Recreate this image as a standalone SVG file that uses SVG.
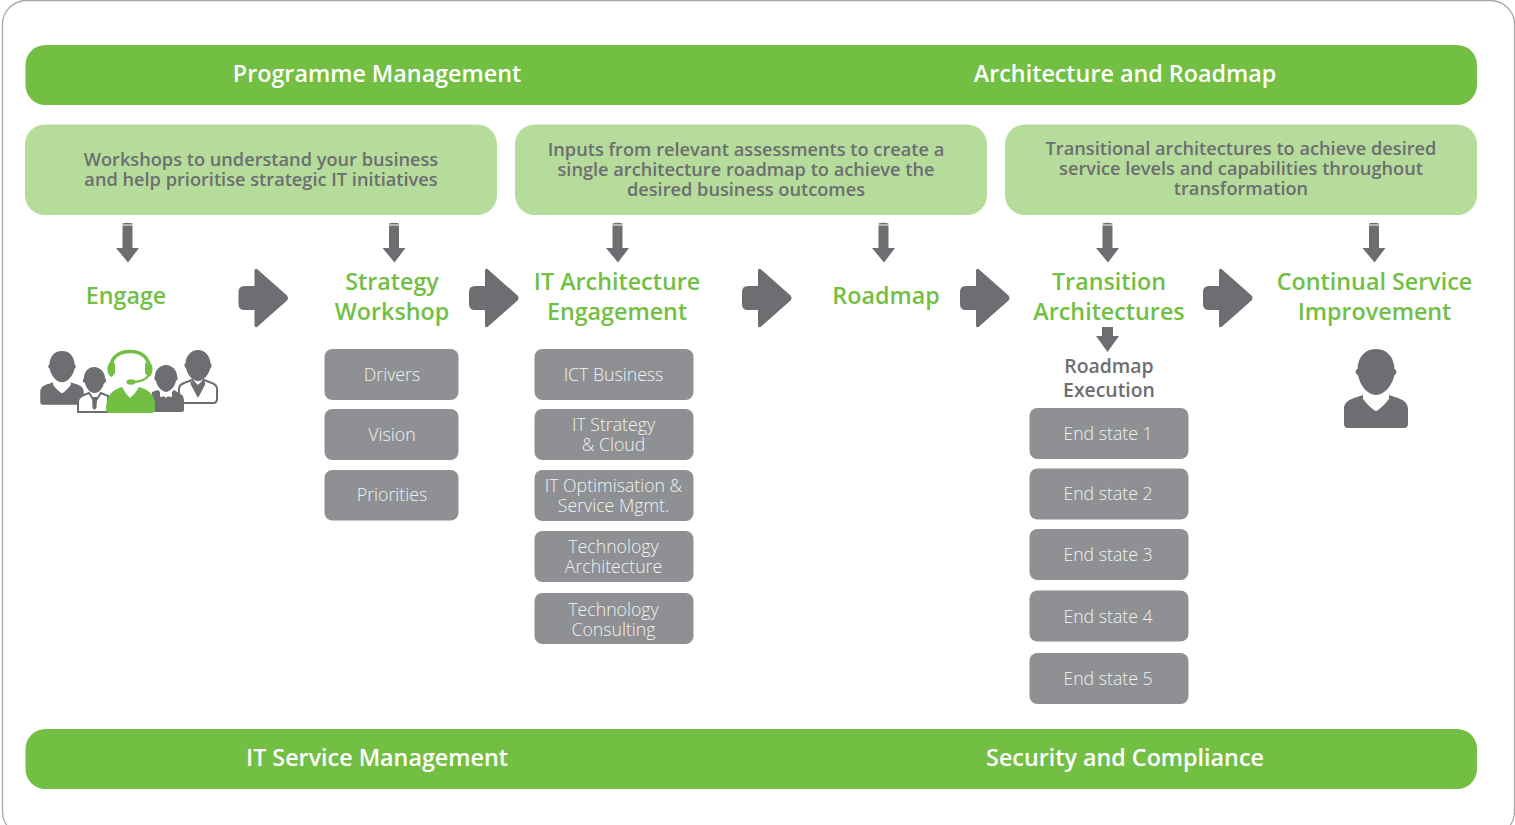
<svg xmlns="http://www.w3.org/2000/svg" xmlns:xlink="http://www.w3.org/1999/xlink" width="1515" height="825" viewBox="0 0 1515 825">
<style>
text{font-family:"Open Sans","Noto Sans","Liberation Sans",sans-serif;text-anchor:middle}
.band{fill:#72bf44}
.bt{fill:#fff;font-size:23.300px;font-weight:600}
.lb{fill:#b5dc9a}
.lt{fill:#6d6e71;font-size:18.200px;font-weight:600}
.re{fill:#6d6e71;font-size:19.400px;font-weight:600}
.h{fill:#72bf44;font-size:23.300px;font-weight:600}
.g{fill:#8e9093}
.gt{fill:#f1f2f2;font-size:17.700px;font-weight:300}
.d{fill:#6d6e71}
.w{fill:#fff}
.ol{fill:#fff;stroke:#6d6e71;stroke-width:2}
</style>
<defs>
<path id="down" d="M-5 -19.500Q0 -21 5 -19.500L5 -18.500L-5 -18.500ZM-5 -17.500L5 -17.500L5 5L11.500 5L0.500 19.500L-11.500 5L-5 5Z" class="d"/>
<path id="big" d="M16 -27Q16 -30 18.500 -29L48.500 -2.500Q50.500 0 48.500 2.500L18.500 29Q16 30 16 27L16 12L6 12Q0 12 0 6L0 -6Q0 -12 6 -12L16 -12Z" class="d"/>
<g id="person">
<path d="M0 0C-12 0 -18 9 -18.500 20C-21 21 -21 25 -18 26C-16 37 -8 46 0 46C8 46 16 37 18.500 26C21 25 21 21 18.500 20C18 9 12 0 0 0Z"/>
<path d="M-13 46C-20 49 -32 50 -32 60L-32 75Q-32 79 -28 79L28 79Q32 79 32 75L32 60C32 50 20 49 13 46L13 50Q5 60 0 62Q-5 60 -13 50Z"/>
</g>
</defs>
<rect x="2.500" y="0.500" width="1512" height="835" rx="24" fill="#fff" stroke="#a7a9ac" stroke-width="1.300"/>

<g id="top-band">
<rect class="band" x="25.500" y="45" width="1451.500" height="60" rx="20"/>
<text class="bt" x="377" y="82">Programme Management</text>
<text class="bt" x="1125" y="82">Architecture and Roadmap</text>
</g>
<g id="bottom-band">
<rect class="band" x="25.500" y="729" width="1451.500" height="60" rx="20"/>
<text class="bt" x="377" y="766">IT Service Management</text>
<text class="bt" x="1125" y="766">Security and Compliance</text>
</g>

<g id="note-1">
<rect class="lb" x="25" y="124.500" width="472" height="90.500" rx="20"/>
<text class="lt"><tspan x="261" y="166">Workshops to understand your business</tspan><tspan x="261" y="186">and help prioritise strategic IT initiatives</tspan></text>
</g>
<g id="note-2">
<rect class="lb" x="515" y="124.500" width="472" height="90.500" rx="20"/>
<text class="lt"><tspan x="746" y="156">Inputs from relevant assessments to create a</tspan><tspan x="746" y="176">single architecture roadmap to achieve the</tspan><tspan x="746" y="196">desired business outcomes</tspan></text>
</g>
<g id="note-3">
<rect class="lb" x="1005" y="124.500" width="472" height="90.500" rx="20"/>
<text class="lt"><tspan x="1241" y="155">Transitional architectures to achieve desired</tspan><tspan x="1241" y="175">service levels and capabilities throughout</tspan><tspan x="1241" y="195">transformation</tspan></text>
</g>

<g id="connectors">
<use xlink:href="#down" href="#down" x="127.500" y="243"/>
<use xlink:href="#down" href="#down" x="394" y="243"/>
<use xlink:href="#down" href="#down" x="617.500" y="243"/>
<use xlink:href="#down" href="#down" x="883.500" y="243"/>
<use xlink:href="#down" href="#down" x="1107.500" y="243"/>
<use xlink:href="#down" href="#down" x="1374" y="243"/>
<path class="d" d="M1102 327L1113 327L1113 336L1119 336L1107.500 352L1096 336L1102 336Z"/>
<use xlink:href="#big" href="#big" x="238.500" y="298"/>
<use xlink:href="#big" href="#big" x="469" y="298"/>
<use xlink:href="#big" href="#big" x="742" y="298"/>
<use xlink:href="#big" href="#big" x="960" y="298"/>
<use xlink:href="#big" href="#big" x="1203" y="298"/>
</g>

<g id="engage">
<text class="h" x="126" y="304" font-size="24">Engage</text>
<g id="engage-people">
<use xlink:href="#person" href="#person" transform="translate(62 351) scale(.68 .68)" class="d"/>
<path class="ol" d="M179 402L179 389Q179 385 184 383L192 380L198 387L204 380L212 383Q217 385 217 389L217 399Q217 403 213 403L180 403Z"/>
<path class="d" d="M198 350C191 350 186 356 185.500 363C184 364 184 367 186 368C187 374 192 381 198 381C204 381 209 374 210.500 368C212 367 212 364 210.500 363C210 356 205 350 198 350Z"/>
<path class="d" d="M190 381L197 385L205 381L205 385L198 398L191 385Z"/>
<path class="d" d="M166 365C160 365 155 370 155 376C154 378 154 380 156 381C157 386 161 391 166 392C171 391 175 386 176 381C178 380 178 378 177 376C177 370 172 365 166 365Z"/>
<path class="d" d="M152 392L158 390L166 398L174 390L182 395Q184 397 184 400L184 410Q184 412 182 412L152 412Z"/>
<path class="w" d="M160 391L166 395L172 391L172 397L166 396L160 397Z"/>
<path class="ol" d="M78 412L78 402Q78 397 84 395L89 393L95 402L101 393L108 396L108 412Z"/>
<path class="d" d="M94 367C88 367 84 372 84 378C82 380 83 383 85 383C86 388 90 393 94.500 393C99 393 103 388 104 383C106 383 107 380 105 378C105 372 100 367 94 367Z"/>
<path class="d" d="M92 397L97 397L96.500 408L94.500 410L92.500 408Z"/>
<path d="M106 409Q106 391 122 387Q125 393 130 398Q136 393 139 387Q155 391 155 405L155 409Q155 413 151 413L110 413Q106 413 106 409Z" fill="#72bf44"/>
<path d="M111 370C110 358 118 351.500 130 351.500C142 351.500 150 358 149 370" fill="none" stroke="#72bf44" stroke-width="3.600"/>
<path d="M112 361C106 363 106 376 112 377L115 373L115 364Z" fill="#72bf44"/>
<path d="M148 361C154 363 154 376 148 377L145 373L145 364Z" fill="#72bf44"/>
<path d="M148 376Q145 381 134 382" fill="none" stroke="#72bf44" stroke-width="2.400"/>
<ellipse cx="131" cy="382" rx="4.500" ry="2.800" fill="#72bf44"/>
</g>
</g>

<g id="strategy-workshop">
<text class="h"><tspan x="392" y="290">Strategy</tspan><tspan x="392" y="320">Workshop</tspan></text>
</g>
<g id="drivers"><rect class="g" x="324.500" y="349" width="134" height="51" rx="8"/><text class="gt" x="392" y="381">Drivers</text></g>
<g id="vision"><rect class="g" x="324.500" y="409" width="134" height="51" rx="8"/><text class="gt" x="392" y="441">Vision</text></g>
<g id="priorities"><rect class="g" x="324.500" y="470" width="134" height="50.500" rx="8"/><text class="gt" x="392" y="501">Priorities</text></g>

<g id="it-architecture-engagement">
<text class="h"><tspan x="617" y="290">IT Architecture</tspan><tspan x="617" y="320">Engagement</tspan></text>
</g>
<g id="ict-business"><rect class="g" x="534.500" y="349" width="159" height="51" rx="8"/><text class="gt" x="613.500" y="381">ICT Business</text></g>
<g id="it-strategy"><rect class="g" x="534.500" y="409" width="159" height="51" rx="8"/><text class="gt"><tspan x="613.500" y="431">IT Strategy</tspan><tspan x="613.500" y="451">&amp; Cloud</tspan></text></g>
<g id="it-optimisation"><rect class="g" x="534.500" y="470" width="159" height="51" rx="8"/><text class="gt"><tspan x="613.500" y="492">IT Optimisation &amp;</tspan><tspan x="613.500" y="512">Service Mgmt.</tspan></text></g>
<g id="technology-architecture"><rect class="g" x="534.500" y="531" width="159" height="51" rx="8"/><text class="gt"><tspan x="613.500" y="553">Technology</tspan><tspan x="613.500" y="573">Architecture</tspan></text></g>
<g id="technology-consulting"><rect class="g" x="534.500" y="593" width="159" height="51" rx="8"/><text class="gt"><tspan x="613.500" y="616">Technology</tspan><tspan x="613.500" y="636">Consulting</tspan></text></g>

<g id="roadmap"><text class="h" x="886" y="304">Roadmap</text></g>

<g id="transition-architectures">
<text class="h"><tspan x="1109" y="290">Transition</tspan><tspan x="1109" y="320">Architectures</tspan></text>
</g>
<g id="roadmap-execution">
<text class="re"><tspan x="1109" y="373">Roadmap</tspan><tspan x="1109" y="397">Execution</tspan></text>
</g>
<g id="end-state-1"><rect class="g" x="1029.500" y="408" width="159" height="51" rx="8"/><text class="gt" x="1108" y="440">End state 1</text></g>
<g id="end-state-2"><rect class="g" x="1029.500" y="468.500" width="159" height="51" rx="8"/><text class="gt" x="1108" y="500">End state 2</text></g>
<g id="end-state-3"><rect class="g" x="1029.500" y="529" width="159" height="51" rx="8"/><text class="gt" x="1108" y="561">End state 3</text></g>
<g id="end-state-4"><rect class="g" x="1029.500" y="590.500" width="159" height="51" rx="8"/><text class="gt" x="1108" y="623">End state 4</text></g>
<g id="end-state-5"><rect class="g" x="1029.500" y="653" width="159" height="51" rx="8"/><text class="gt" x="1108" y="685">End state 5</text></g>

<g id="continual-service-improvement">
<text class="h"><tspan x="1374.500" y="290">Continual Service</tspan><tspan x="1374.500" y="320">Improvement</tspan></text>
<use xlink:href="#person" href="#person" transform="translate(1376 349)" class="d"/>
</g>
</svg>
